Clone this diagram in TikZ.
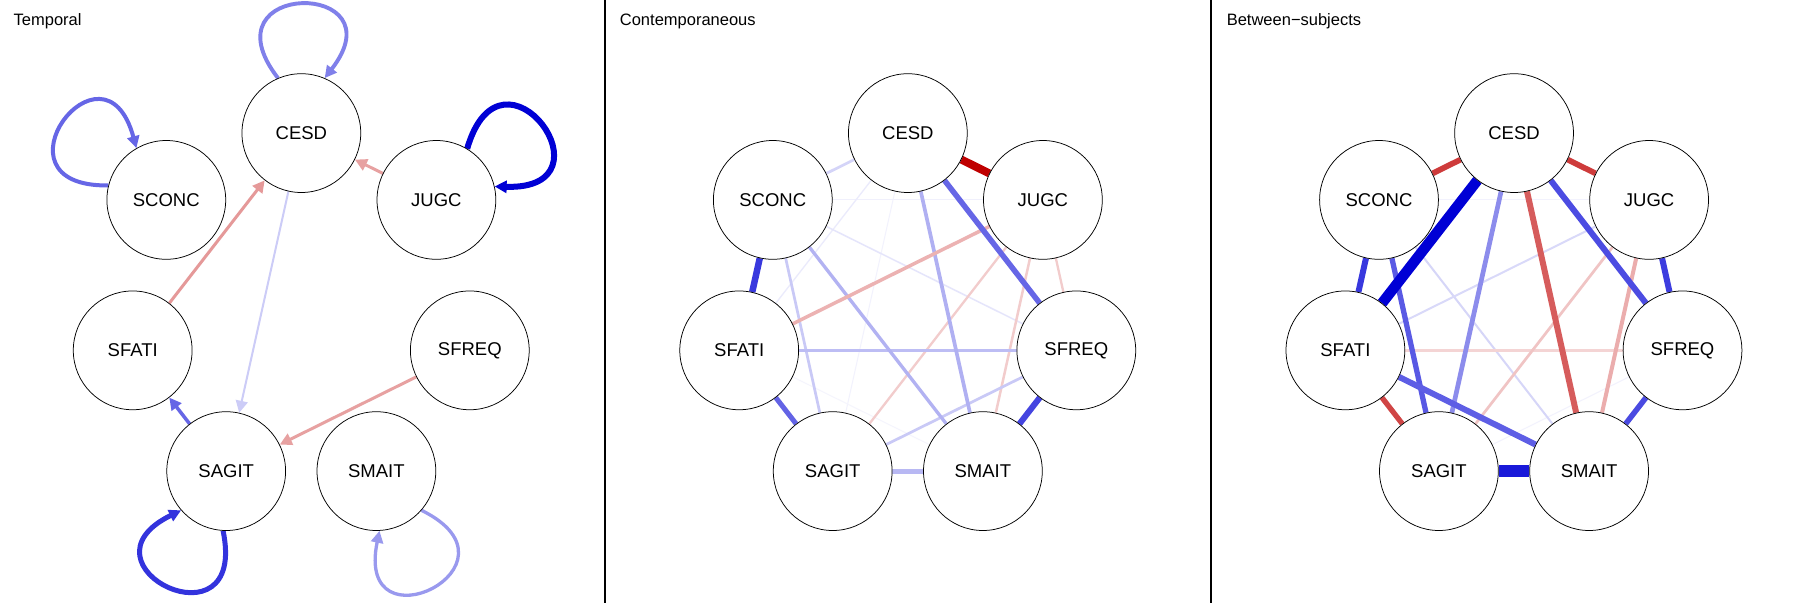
\documentclass[tikz,border=0pt]{standalone}
\usepackage{fontspec}
\setmainfont{Liberation Sans}
\usetikzlibrary{arrows.meta,calc}
\pgfdeclarelayer{bg}
\pgfdeclarelayer{paper}
\pgfsetlayers{paper,bg,main}
\definecolor{pos}{HTML}{0000D5}
\definecolor{neg}{HTML}{BF0000}
\tikzset{
  nd/.style={circle, draw=black, line width=0.75pt, fill=white, minimum size=118.8pt,
    inner sep=0pt, font=\fontsize{18.5}{18.5}\selectfont},
  ttl/.style={anchor=base west, inner sep=0pt, font=\fontsize{16.5}{16.5}\selectfont},
  arr/.style={-{Triangle[length=12pt,width=12pt]}},
  pe/.style 2 args={draw=pos!#1, line width=#2pt},
  ne/.style 2 args={draw=neg!#1, line width=#2pt},
  sep/.style={draw=black, line width=1.5pt}
}
\newcommand\placenodes[2]{%
  \node[nd] (CESD#1)  at ({301.35+#2},133.1) {CESD};
  \node[nd] (SCONC#1) at ({166.3+#2},199.9) {SCONC};
  \node[nd] (JUGC#1)  at ({436.4+#2},199.9) {JUGC};
  \node[nd] (SFATI#1) at ({132.7+#2},350.35) {SFATI};
  \node[nd] (SFREQ#1) at ({469.8+#2},350.35) {SFREQ};
  \node[nd] (SAGIT#1) at ({226.2+#2},471.1) {SAGIT};
  \node[nd] (SMAIT#1) at ({376.4+#2},471.1) {SMAIT};
}
\newcommand\selfloop[3]{%
  \pgfmathtruncatemacro\lpa{#2+23}%
  \pgfmathtruncatemacro\lpb{#2-23}%
  \pgfmathsetmacro\lca{#2+33}%
  \pgfmathsetmacro\lcb{#2-33}%
  \draw[#3] (#1.\lpa) .. controls ($(#1)+(\lca:183pt)$) and ($(#1)+(\lcb:183pt)$) .. (#1.\lpb);
}
\begin{document}
\begin{tikzpicture}[x=1pt,y=-1pt]
\useasboundingbox (0,0) rectangle (1816,603);
\begin{pgfonlayer}{paper}
\fill[white] (0,0) rectangle (1816,603);
\end{pgfonlayer}
% panel separators
\coordinate (s1t) at (605,0);
\coordinate (s1b) at (605,603);
\coordinate (s2t) at (1211,0);
\coordinate (s2b) at (1211,603);
\draw[sep] (s1t) -- (s1b);
\draw[sep] (s2t) -- (s2b);
% titles
\node[ttl] (t1) at (13.5,25) {Temporal};
\node[ttl] (t2) at (619.7,25) {Contemporaneous};
\node[ttl] (t3) at (1226.6,25) {Between−subjects};
% nodes
\placenodes{a}{0}
\placenodes{b}{606.5}
\placenodes{c}{1212.7}
\begin{pgfonlayer}{bg}
% ---------- Temporal ----------
\selfloop{CESDa}{90}{arr, pe={50}{3.9}}
\selfloop{SCONCa}{143}{arr, pe={60}{4}}
\selfloop{JUGCa}{36}{arr, pe={100}{6}}
\selfloop{SAGITa}{244}{arr, pe={80}{5}}
\selfloop{SMAITa}{296}{arr, pe={40}{3.3}}
\draw[arr, ne={37}{3}] (JUGCa) -- (CESDa);
\draw[arr, ne={40}{3}] (SFATIa) -- (CESDa);
\draw[arr, pe={20}{2}] (CESDa) -- (SAGITa);
\draw[arr, pe={60}{3.5}] (SAGITa) -- (SFATIa);
\draw[arr, ne={37}{3}] (SFREQa) -- (SAGITa);
% ---------- Contemporaneous ----------
\draw[pe={6}{1}] (SCONCb) -- (JUGCb);
\draw[pe={5}{1}] (CESDb) -- (SAGITb);
\draw[pe={4}{1}] (SFATIb) -- (SMAITb);
\draw[pe={8}{1.3}] (CESDb) -- (SFATIb);
\draw[pe={10}{1.5}] (SCONCb) -- (SFREQb);
\draw[ne={20}{2.3}] (JUGCb) -- (SFREQb);
\draw[ne={20}{2.3}] (JUGCb) -- (SAGITb);
\draw[ne={20}{2.5}] (JUGCb) -- (SMAITb);
\draw[pe={17}{2.7}] (CESDb) -- (SCONCb);
\draw[pe={21}{2.7}] (SCONCb) -- (SAGITb);
\draw[pe={21}{2.7}] (SFREQb) -- (SAGITb);
\draw[pe={26}{3.3}] (SFATIb) -- (SFREQb);
\draw[pe={30}{3.3}] (SCONCb) -- (SMAITb);
\draw[pe={31}{3.7}] (CESDb) -- (SMAITb);
\draw[ne={30}{3.5}] (JUGCb) -- (SFATIb);
\draw[pe={28}{5}] (SAGITb) -- (SMAITb);
\draw[pe={61}{5}] (SFATIb) -- (SAGITb);
\draw[pe={60}{5.5}] (CESDb) -- (SFREQb);
\draw[pe={73}{6}] (SFREQb) -- (SMAITb);
\draw[pe={78}{6.5}] (SCONCb) -- (SFATIb);
\draw[ne={100}{8}] (CESDb) -- (JUGCb);
% ---------- Between-subjects ----------
\draw[pe={5}{1}] (SCONCc) -- (JUGCc);
\draw[pe={5}{1}] (SFREQc) -- (SAGITc);
\draw[pe={16}{2}] (SCONCc) -- (SMAITc);
\draw[pe={15}{2}] (JUGCc) -- (SFATIc);
\draw[ne={17}{2.7}] (SFATIc) -- (SFREQc);
\draw[ne={23}{2.7}] (JUGCc) -- (SAGITc);
\draw[ne={32}{4}] (JUGCc) -- (SMAITc);
\draw[pe={45}{4.7}] (CESDc) -- (SAGITc);
\draw[ne={77}{5.7}] (CESDc) -- (SCONCc);
\draw[ne={77}{5.7}] (CESDc) -- (JUGCc);
\draw[ne={64}{6}] (CESDc) -- (SMAITc);
\draw[pe={70}{6}] (CESDc) -- (SFREQc);
\draw[pe={78}{6}] (SCONCc) -- (SFATIc);
\draw[pe={65}{5.3}] (SCONCc) -- (SAGITc);
\draw[pe={76}{6}] (JUGCc) -- (SFREQc);
\draw[ne={73}{5.3}] (SFATIc) -- (SAGITc);
\draw[pe={63}{6}] (SFATIc) -- (SMAITc);
\draw[pe={71}{5.5}] (SFREQc) -- (SMAITc);
\draw[pe={100}{10.5}] (CESDc) -- (SFATIc);
\draw[pe={90}{12.3}] (SAGITc) -- (SMAITc);
\end{pgfonlayer}
\end{tikzpicture}
\end{document}
